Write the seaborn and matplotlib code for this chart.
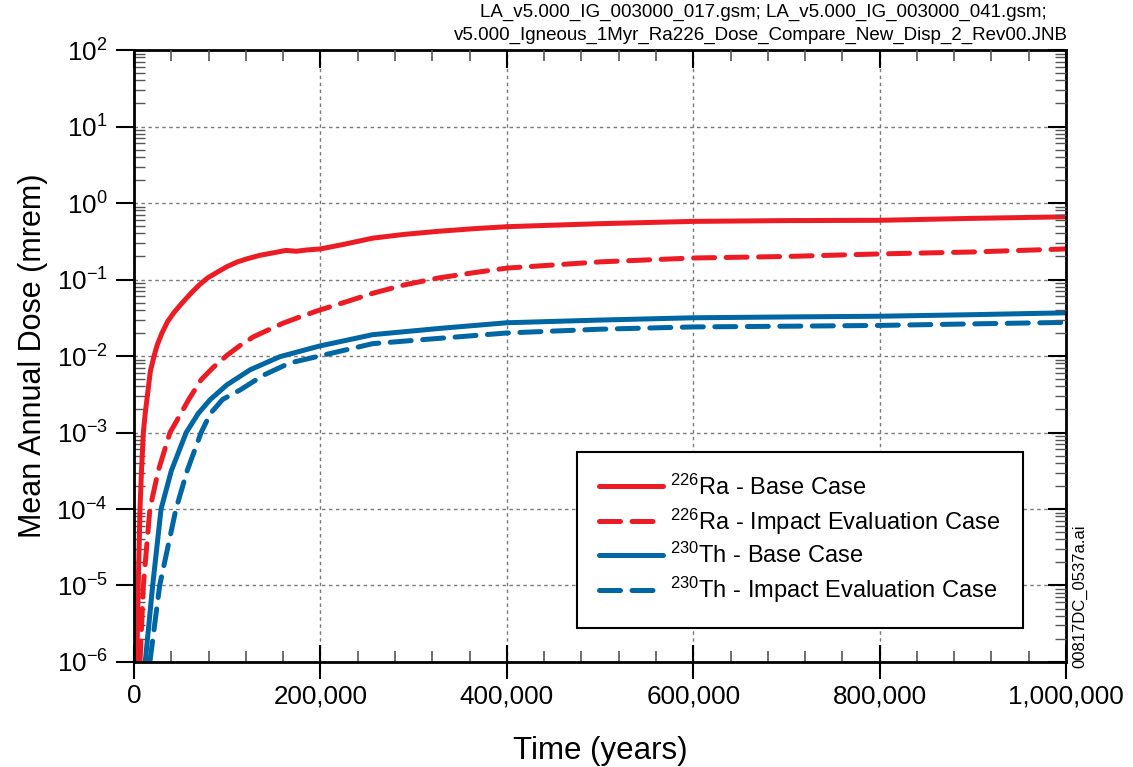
import numpy as np
import pandas as pd
import matplotlib
matplotlib.use('Agg')
import matplotlib.pyplot as plt
import matplotlib.ticker as mticker
import seaborn as sns

# ---- data (time in years, mean annual dose in mrem) ----
ra_base_t = [3000, 4500, 6400, 8000, 10000, 12000, 14500, 17500, 21500, 25000,
             30000, 36000, 43000, 52000, 61000, 70000, 79000, 90000, 100000,
             111000, 121000, 135000, 150000, 163000, 174000, 185000, 200000,
             225000, 256000, 290000, 327000, 365000, 400000, 450000, 500000,
             600000, 700000, 800000, 900000, 1000000]
ra_base_dose = [1e-6, 1e-5, 1e-4, 3.16e-4, 1e-3, 1.78e-3, 3.16e-3, 6.3e-3, 0.01, 0.0141,
                0.020, 0.0282, 0.0372, 0.050, 0.066, 0.085, 0.105, 0.126, 0.148,
                0.170, 0.186, 0.207, 0.224, 0.240, 0.234, 0.243, 0.251,
                0.288, 0.347, 0.389, 0.427, 0.462, 0.49, 0.513, 0.537,
                0.575, 0.589, 0.594, 0.63, 0.66]

ra_impact_t = [6400, 10000, 17000, 26000, 38600, 48000, 58700, 72000, 85000, 99700,
               113000, 128000, 144000, 160000, 180000, 199000, 228000, 256000,
               290000, 327000, 365000, 400000, 500000, 600000, 700000, 800000,
               900000, 1000000]
ra_impact_dose = [1e-6, 1e-5, 1e-4, 3.16e-4, 1e-3, 1.58e-3, 2.7e-3, 4.9e-3, 7.1e-3, 0.0102,
                  0.0135, 0.0178, 0.0219, 0.0269, 0.0331, 0.0398, 0.0513, 0.066,
                  0.085, 0.105, 0.123, 0.141, 0.170, 0.191, 0.200, 0.216,
                  0.229, 0.251]

th_base_t = [12000, 20000, 29000, 40000, 56000, 69000, 81800, 99700, 124500, 156500,
             199000, 256000, 327000, 400000, 500000, 600000, 700000, 800000,
             900000, 1000000]
th_base_dose = [1e-6, 1e-5, 1e-4, 3.16e-4, 1e-3, 1.78e-3, 2.7e-3, 4.2e-3, 6.6e-3, 9.8e-3,
                0.0135, 0.019, 0.0229, 0.0272, 0.0295, 0.0316, 0.0324, 0.0331,
                0.0347, 0.0367]

th_impact_t = [17000, 27500, 45000, 57000, 72000, 82000, 95000, 113800, 138700,
               167000, 199000, 256000, 327000, 400000, 500000, 600000, 700000,
               800000, 900000, 1000000]
th_impact_dose = [1e-6, 1e-5, 1e-4, 3.16e-4, 1e-3, 1.78e-3, 2.7e-3, 3.6e-3, 5.6e-3,
                  8.1e-3, 0.01, 0.0145, 0.017, 0.020, 0.0224, 0.024, 0.0245,
                  0.0251, 0.0263, 0.0275]

series_labels = [r'$^{226}$Ra - Base Case',
                 r'$^{226}$Ra - Impact Evaluation Case',
                 r'$^{230}$Th - Base Case',
                 r'$^{230}$Th - Impact Evaluation Case']

x_ticks = [0, 200000, 400000, 600000, 800000, 1000000]

header_line1 = 'LA_v5.000_IG_003000_017.gsm; LA_v5.000_IG_003000_041.gsm;'
header_line2 = 'v5.000_Igneous_1Myr_Ra226_Dose_Compare_New_Disp_2_Rev00.JNB'
side_label = '00817DC_0537a.ai'

# ---- style ----
sns.set_style('white')
plt.rcParams['font.family'] = ['Liberation Sans', 'DejaVu Sans']
plt.rcParams['mathtext.fontset'] = 'custom'
plt.rcParams['mathtext.rm'] = 'Liberation Sans'
plt.rcParams['mathtext.it'] = 'Liberation Sans:italic'
plt.rcParams['mathtext.bf'] = 'Liberation Sans:bold'
plt.rcParams['axes.unicode_minus'] = True
for key in ['text.color', 'axes.labelcolor', 'xtick.color', 'ytick.color',
            'xtick.labelcolor', 'ytick.labelcolor']:
    plt.rcParams[key] = 'black'

RED = '#ED1C24'
BLUE = '#0066A4'
LW = 3.6
DASH = (0, (4.2, 2.3))

fig = plt.figure(figsize=(11.33, 7.67), dpi=100)
ax = fig.add_axes([0.1183, 0.1369, 0.8226, 0.7979])

specs = [
    (ra_base_t, ra_base_dose, RED, '-'),
    (ra_impact_t, ra_impact_dose, RED, DASH),
    (th_base_t, th_base_dose, BLUE, '-'),
    (th_impact_t, th_impact_dose, BLUE, DASH),
]
for (t, d, c, ls), lab in zip(specs, series_labels):
    df = pd.DataFrame({'time': t, 'dose': d})
    sns.lineplot(data=df, x='time', y='dose', ax=ax, color=c, linewidth=LW,
                 linestyle=ls, label=lab, errorbar=None, sort=True,
                 solid_capstyle='round', dash_capstyle='round',
                 solid_joinstyle='round')

ax.set_yscale('log')
ax.set_xlim(0, 1000000)
ax.set_ylim(1e-6, 1e2)

ax.xaxis.set_major_locator(mticker.FixedLocator(x_ticks))
ax.xaxis.set_minor_locator(mticker.MultipleLocator(40000))
ax.xaxis.set_major_formatter(mticker.FuncFormatter(lambda v, p: f'{v:,.0f}'))
ax.yaxis.set_major_locator(mticker.LogLocator(base=10, numticks=20))
ax.yaxis.set_minor_locator(mticker.LogLocator(base=10, subs=np.arange(2, 10), numticks=20))
ax.yaxis.set_minor_formatter(mticker.NullFormatter())

ax.grid(True, which='major', linestyle=(0, (2.5, 2.5)), color='#7a7a7a', linewidth=1.0)
ax.set_axisbelow(True)

for s in ax.spines.values():
    s.set_color('black')
    s.set_linewidth(2.0)

ax.tick_params(axis='x', which='major', direction='inout', length=24, width=1.5,
               color='black', labelsize=18.7, pad=4, top=False)
ax.tick_params(axis='x', which='minor', direction='in', length=8, width=1.2,
               color='#555555', top=False)
ax.tick_params(axis='y', which='major', direction='out', length=13, width=1.5,
               color='black', labelsize=18.7, pad=6, right=False)
ax.tick_params(axis='y', which='minor', direction='in', length=8, width=1.0,
               color='#555555', right=False)

# right and top tick marks (inward)
ax_r = ax.twinx()
ax_r.set_yscale('log')
ax_r.set_ylim(ax.get_ylim())
ax_r.yaxis.set_major_locator(mticker.LogLocator(base=10, numticks=20))
ax_r.yaxis.set_minor_locator(mticker.LogLocator(base=10, subs=np.arange(2, 10), numticks=20))
ax_r.tick_params(axis='y', which='major', direction='in', length=13, width=1.5,
                 labelright=False, color='black')
ax_r.tick_params(axis='y', which='minor', direction='in', length=8, width=1.0,
                 labelright=False, color='#555555')
ax_r.grid(False)
for s in ax_r.spines.values():
    s.set_visible(False)

ax_t = ax.twiny()
ax_t.set_xlim(ax.get_xlim())
ax_t.xaxis.set_major_locator(mticker.FixedLocator(x_ticks))
ax_t.xaxis.set_minor_locator(mticker.MultipleLocator(40000))
ax_t.tick_params(axis='x', which='major', direction='in', length=13, width=1.5,
                 labeltop=False, color='black')
ax_t.tick_params(axis='x', which='minor', direction='in', length=8, width=1.2,
                 labeltop=False, color='#555555')
ax_t.grid(False)
for s in ax_t.spines.values():
    s.set_visible(False)

ax.set_xlabel('Time (years)', fontsize=22.5, labelpad=20)
ax.set_ylabel('Mean Annual Dose (mrem)', fontsize=22, labelpad=6)

handles, labels = ax.get_legend_handles_labels()
leg = ax.legend(handles, labels, loc='upper left', bbox_to_anchor=(0.475, 0.343),
                fontsize=17, frameon=True, fancybox=False, framealpha=1,
                edgecolor='black', handlelength=2.7, handletextpad=0.3,
                labelspacing=0.28, borderpad=0.95, borderaxespad=0)
leg.get_frame().set_linewidth(1.5)

fig.text(1047 / 1133, 1 - 12 / 767, header_line1, ha='right', va='center', fontsize=13.5)
fig.text(1068 / 1133, 1 - 35 / 767, header_line2, ha='right', va='center', fontsize=13.5)
fig.text(1080 / 1133, 1 - 668 / 767, side_label, rotation=90, ha='center', va='bottom',
         fontsize=12)

fig.savefig('out.png', dpi=100)
